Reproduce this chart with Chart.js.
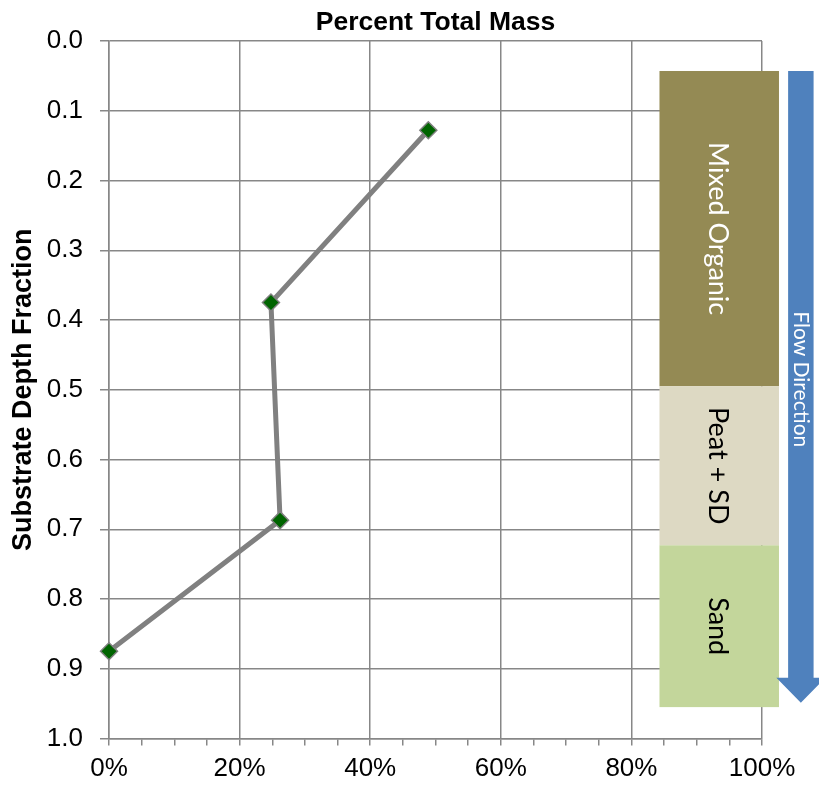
<!DOCTYPE html>
<html>
<head>
<meta charset="utf-8">
<script src="https://cdn.jsdelivr.net/npm/chart.js@4"></script>
<style>
  html, body { margin: 0; padding: 0; background: #ffffff; }
  #wrap { width: 819px; height: 786px; }
</style>
</head>
<body>
<div id="wrap"><canvas id="chart" width="819" height="786"></canvas></div>
<script>
// Mass distribution with depth
const depthFraction = [0.128, 0.375, 0.687, 0.875];
const percentMass   = [48.9, 24.8, 26.2, 0];

// Substrate layers (depth fraction bounds)
const layerNames  = ['Mixed Organic', 'Peat + SD', 'Sand'];
const layerTop    = [0.043, 0.495, 0.723];
const layerBottom = [0.495, 0.723, 0.955];

// Axis tick labels
const depthTicks   = [0.0, 0.1, 0.2, 0.3, 0.4, 0.5, 0.6, 0.7, 0.8, 0.9, 1.0];
const percentTicks = [0, 20, 40, 60, 80, 100];

// Styling for the layer column and the flow arrow
const layerFill = ['#948A54', '#DDD9C3', '#C3D69B'];
const layerInk  = ['#ffffff', '#000000', '#000000'];
const layerBand = { left: 84.3, right: 102.6 };
const arrow = { shaftLeft: 104.0, shaftRight: 107.9, headLeft: 102.2, headRight: 109.7,
                top: 0.043, headTop: 0.913, tip: 0.9486, labelAt: 0.485, color: '#4F81BD' };
const sideFont = 'Lato, "Open Sans", sans-serif';
const axisFont = '"Liberation Sans", Arial, sans-serif';
const gridGray = '#878787';

const layerColumn = {
  id: 'layerColumn',
  afterDraw(chart) {
    const { ctx, scales } = chart;
    const x = scales.x, y = scales.y;
    ctx.save();
    const bl = x.getPixelForValue(layerBand.left);
    const br = x.getPixelForValue(layerBand.right);
    layerNames.forEach((name, i) => {
      const t = y.getPixelForValue(layerTop[i]);
      const b = y.getPixelForValue(layerBottom[i]);
      ctx.fillStyle = layerFill[i];
      ctx.fillRect(bl, t, br - bl, b - t);
      ctx.save();
      ctx.translate((bl + br) / 2 - 2, (t + b) / 2);
      ctx.rotate(Math.PI / 2);
      ctx.fillStyle = layerInk[i];
      ctx.font = '27px ' + sideFont;
      ctx.textAlign = 'center';
      ctx.textBaseline = 'middle';
      ctx.fillText(name, 0, 0);
      ctx.restore();
    });

    // flow arrow
    const sl = x.getPixelForValue(arrow.shaftLeft);
    const sr = x.getPixelForValue(arrow.shaftRight);
    const hl = x.getPixelForValue(arrow.headLeft);
    const hr = x.getPixelForValue(arrow.headRight);
    const cx = (sl + sr) / 2;
    const top = y.getPixelForValue(arrow.top);
    const ht = y.getPixelForValue(arrow.headTop);
    const tip = y.getPixelForValue(arrow.tip);
    ctx.fillStyle = arrow.color;
    ctx.beginPath();
    ctx.moveTo(sl, top);
    ctx.lineTo(sr, top);
    ctx.lineTo(sr, ht);
    ctx.lineTo(hr, ht);
    ctx.lineTo(cx, tip);
    ctx.lineTo(hl, ht);
    ctx.lineTo(sl, ht);
    ctx.closePath();
    ctx.fill();
    ctx.save();
    ctx.translate(cx, y.getPixelForValue(arrow.labelAt));
    ctx.rotate(Math.PI / 2);
    ctx.fillStyle = '#ffffff';
    ctx.font = '21px ' + sideFont;
    ctx.textAlign = 'center';
    ctx.textBaseline = 'middle';
    ctx.fillText('Flow Direction', 0, 0);
    ctx.restore();
    ctx.restore();
  }
};

new Chart(document.getElementById('chart'), {
  type: 'line',
  data: {
    datasets: [{
      data: percentMass.map((p, i) => ({ x: p, y: depthFraction[i] })),
      borderColor: '#808080',
      borderWidth: 5,
      pointStyle: 'rectRot',
      pointRadius: 8.5,
      pointHoverRadius: 8.5,
      pointBackgroundColor: '#006400',
      pointBorderColor: '#808080',
      pointBorderWidth: 1.5,
      tension: 0,
      clip: false
    }]
  },
  options: {
    responsive: false,
    animation: false,
    events: [],
    layout: { padding: { left: 0, right: 57, top: 0, bottom: 0 } },
    plugins: { legend: { display: false }, tooltip: { enabled: false } },
    scales: {
      x: {
        type: 'linear',
        position: 'bottom',
        min: 0, max: 100,
        afterBuildTicks(scale) {
          const t = [];
          for (let v = 0; v <= 100; v += 5) t.push({ value: v });
          scale.ticks = t;
        },
        afterFit(scale) { scale.height -= 6.7; },
        ticks: {
          autoSkip: false,
          maxRotation: 0,
          padding: 8,
          color: '#000000',
          font: { family: axisFont, size: 26 },
          callback: v => percentTicks.includes(v) ? v + '%' : ''
        },
        grid: {
          color: c => (c.tick && percentTicks.includes(c.tick.value)) ? gridGray : 'rgba(0,0,0,0)',
          tickColor: gridGray,
          lineWidth: 1.5,
          tickLength: 7
        },
        border: { color: gridGray, width: 1.5 }
      },
      xTop: {
        type: 'linear',
        position: 'top',
        grid: { display: false, drawTicks: false },
        border: { display: false },
        ticks: { display: false },
        title: {
          display: true,
          text: 'Percent Total Mass',
          color: '#000000',
          font: { family: axisFont, size: 26.5, weight: 'bold' },
          padding: { top: 6.6, bottom: 2.6 }
        }
      },
      y: {
        type: 'linear',
        reverse: true,
        min: 0, max: 1,
        afterBuildTicks(scale) {
          scale.ticks = depthTicks.map(v => ({ value: v }));
        },
        afterFit(scale) { scale.width = 109; },
        ticks: {
          padding: 17,
          color: '#000000',
          font: { family: axisFont, size: 26 },
          callback: v => Number(v).toFixed(1)
        },
        grid: { color: gridGray, lineWidth: 1.5, tickLength: 9 },
        border: { color: gridGray, width: 1.5 },
        title: {
          display: true,
          text: 'Substrate Depth Fraction',
          color: '#000000',
          font: { family: axisFont, size: 27, weight: 'bold' },
          padding: { top: 7, bottom: 0 }
        }
      }
    }
  },
  plugins: [layerColumn]
});
</script>
</body>
</html>
